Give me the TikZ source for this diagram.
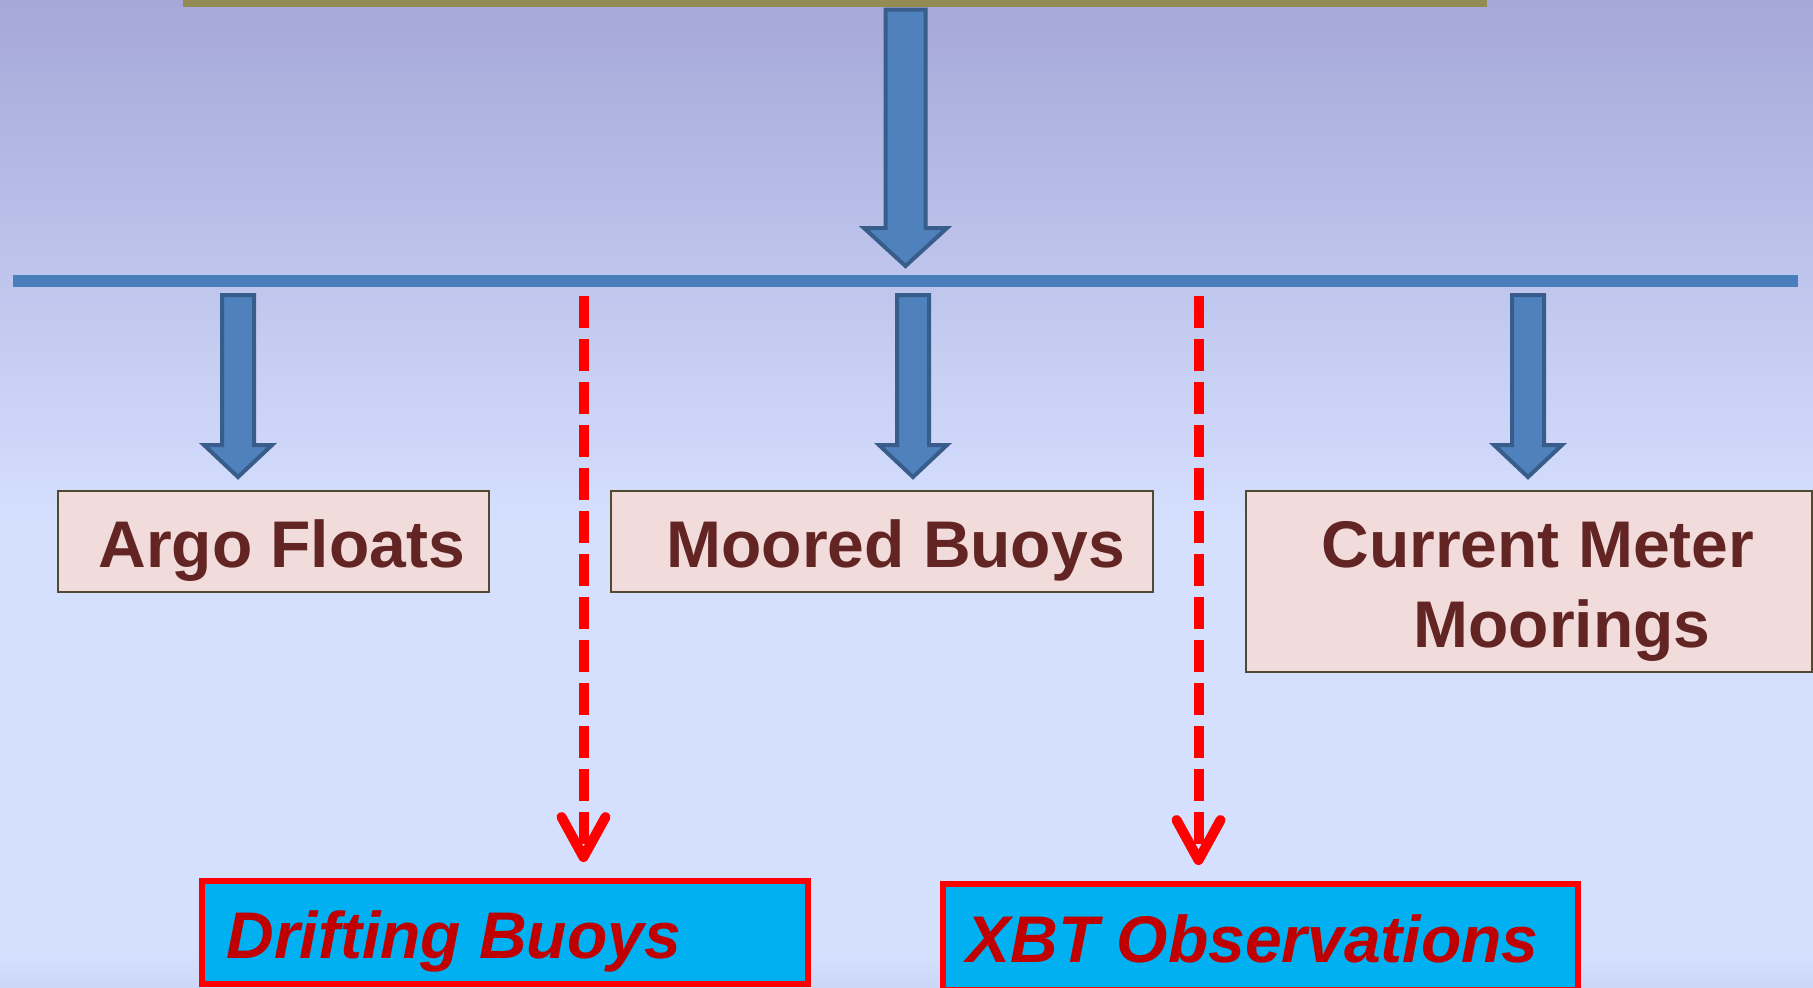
\documentclass[tikz,border=0pt]{standalone}
\usepackage{fontspec}
\setmainfont{Liberation Sans}
\usetikzlibrary{arrows.meta}

\definecolor{bgtop}{HTML}{A5A8D8}
\definecolor{bgbot}{HTML}{D5DFFE}
\definecolor{bgedge}{HTML}{CCD6F6}
\definecolor{topbar}{HTML}{948A54}
\definecolor{barblue}{HTML}{4A7EBB}
\definecolor{arrowfill}{HTML}{4F81BD}
\definecolor{arrowline}{HTML}{385D8A}
\definecolor{pinkfill}{HTML}{F2DCDB}
\definecolor{pinkline}{HTML}{524A2E}
\definecolor{textbrown}{HTML}{632523}
\definecolor{cyanfill}{HTML}{00B0F0}
\definecolor{italred}{HTML}{C00000}

\tikzset{
  blockarr/.style={fill=arrowfill, draw=arrowline, line width=2pt, line join=miter},
  pinkbox/.style={draw=pinkline, fill=pinkfill, line width=1pt, inner sep=0pt},
  cyanbox/.style={draw=red, fill=cyanfill, line width=3pt, inner sep=0pt},
  boxtext/.style={anchor=base west, inner sep=0pt, text=textbrown,
    font=\fontsize{33}{40}\selectfont\bfseries},
  italtext/.style={anchor=base west, inner sep=0pt, text=italred,
    font=\fontsize{33}{40}\selectfont\bfseries\itshape},
  dasharrow/.style={draw=red, line width=5pt, dash pattern=on 16pt off 5.5pt,
    -{Straight Barb[length=20pt,width=22pt,round]}, shorten >=8pt}
}

% x, top, tip, half shaft, half head, head length
\newcommand{\downblock}[6]{%
  \draw[blockarr] (#1-#4,#2) -- (#1+#4,#2) -- (#1+#4,#3-#6) -- (#1+#5,#3-#6)
    -- (#1,#3) -- (#1-#5,#3-#6) -- (#1-#4,#3-#6) -- cycle;}

\begin{document}
\begin{tikzpicture}[x=0.5pt,y=-0.5pt]
\useasboundingbox (0,0) rectangle (1813,987);
\fill[bgbot] (0,0) rectangle (1813,987);
\shade[top color=bgtop, bottom color=bgbot] (0,0) rectangle (1813,522);
\shade[top color=bgbot, bottom color=bgedge] (0,955) rectangle (1813,987);
\fill[topbar] (183,0) rectangle (1487,7);

% main arrow and bar
\downblock{905.5}{9.5}{266}{20}{41.5}{38}
\coordinate (barL) at (13,281);
\coordinate (barR) at (1798,281);
\draw[barblue, line width=6pt] (barL) -- (barR);

\foreach \x in {238,913,1528} {
  \downblock{\x}{295}{477}{16}{34}{32}
}

% boxes
\node[pinkbox, minimum width=215.5pt, minimum height=50.5pt] (argo) at (273.5,541.5) {};
\node[pinkbox, minimum width=271pt, minimum height=50.5pt] (moored) at (882,541.5) {};
\node[pinkbox, minimum width=283pt, minimum height=90.5pt] (meter) at (1529,581.5) {};
\node[cyanbox, minimum width=303pt, minimum height=51.5pt] (drift) at (505,932.5) {};
\node[cyanbox, minimum width=317.5pt, minimum height=53pt] (xbt) at (1260.5,937) {};

\node[boxtext] (argotext) at (98,567) {Argo Floats};
\node[boxtext] (mooredtext) at (666,567) {Moored Buoys};
\node[boxtext] (metertext) at (1321,567) {Current Meter};
\node[boxtext] (mooringtext) at (1413,647) {Moorings};
\node[italtext] (drifttext) at (226,958) {Drifting Buoys};
\node[italtext] (xbttext) at (966,962) {XBT Observations};

% dashed links
\coordinate (d1) at (583.5,296);
\coordinate (d2) at (1198.5,296);
\draw[dasharrow] (d1) -- (d1 |- drift.north);
\draw[dasharrow] (d2) -- (d2 |- xbt.north);
\end{tikzpicture}
\end{document}
